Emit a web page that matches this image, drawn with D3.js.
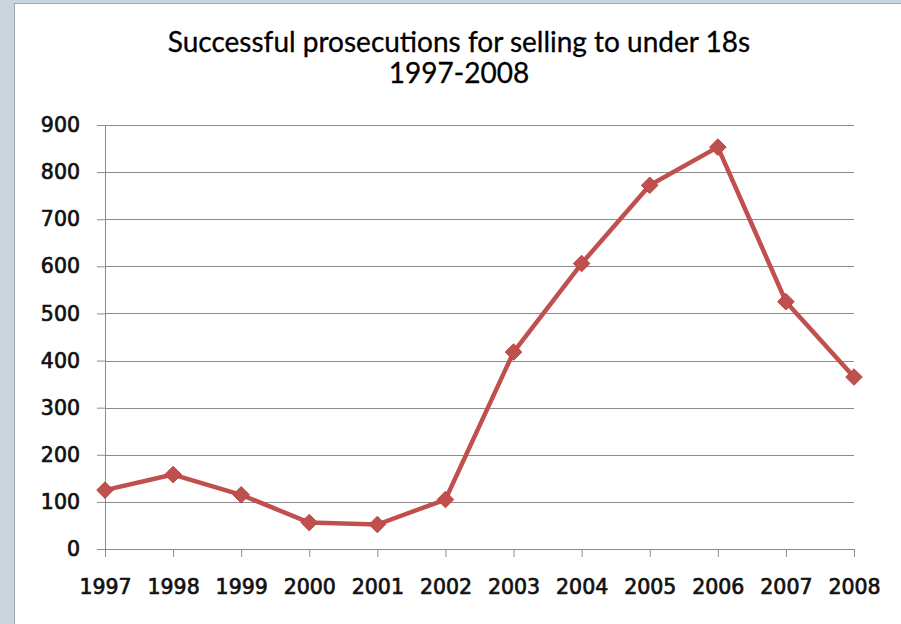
<!DOCTYPE html>
<html>
<head>
<meta charset="utf-8">
<script src="https://cdn.jsdelivr.net/npm/d3@7"></script>
<style>
  html, body { margin: 0; padding: 0; background: #c9d4dc; overflow: hidden; }
  svg { display: block; }
</style>
</head>
<body>
<svg id="chart"></svg>
<script>
const years = ["1997", "1998", "1999", "2000", "2001", "2002", "2003", "2004", "2005", "2006", "2007", "2008"];
const prosecutions = [125, 158, 115, 56, 52, 105, 418, 606, 772, 853, 525, 365];
const yTicks = [0, 100, 200, 300, 400, 500, 600, 700, 800, 900];
const titleLines = ["Successful prosecutions for selling to under 18s", "1997-2008"];

const width = 901;
const height = 624;
const margin = { top: 125, right: 47, bottom: 75, left: 105 };

const svg = d3.select('#chart')
    .attr('width', width)
    .attr('height', height);

// white chart panel, its border only shows on the left and top
svg.append('rect')
    .attr('x', 14.5)
    .attr('y', 3.5)
    .attr('width', width - 14)
    .attr('height', height - 3)
    .attr('fill', 'white')
    .attr('stroke', '#a6a6a6')
    .attr('stroke-width', 1);

const innerWidth = width - margin.left - margin.right;
const innerHeight = height - margin.top - margin.bottom;

const xScale = d3.scalePoint()
    .domain(years)
    .range([0, innerWidth]);

const yScale = d3.scaleLinear()
    .domain([0, 900])
    .range([innerHeight, 0]);

const g = svg.append('g')
    .attr('transform', `translate(${margin.left}, ${margin.top})`);

// gridlines
g.append('g')
    .selectAll('line')
    .data(yTicks.filter(d => d > 0))
    .enter()
    .append('line')
    .attr('x1', 0)
    .attr('x2', innerWidth)
    .attr('y1', d => Math.round(yScale(d)) + 0.5)
    .attr('y2', d => Math.round(yScale(d)) + 0.5)
    .attr('stroke', '#8c8c8c')
    .attr('stroke-width', 1);

const labelFont = sel => sel
    .attr('font-family', 'DejaVu Sans')
    .attr('font-size', '20.5px')
    .attr('fill', '#111')
    .attr('stroke', '#111')
    .attr('stroke-width', 0.7);

// y axis
const yAxis = d3.axisLeft(yScale)
    .tickValues(yTicks)
    .tickSize(8)
    .tickPadding(17);
const yAxisG = g.append('g').call(yAxis);
yAxisG.select('.domain').attr('stroke', '#8c8c8c').attr('d', `M0.5,${innerHeight}V0`);
yAxisG.selectAll('.tick line').attr('stroke', '#8c8c8c');
yAxisG.selectAll('.tick text').call(labelFont);

// x axis
const xAxis = d3.axisBottom(xScale)
    .tickSize(8)
    .tickPadding(22)
    .tickSizeOuter(0);
const xAxisG = g.append('g')
    .attr('transform', `translate(0, ${innerHeight})`)
    .call(xAxis);
xAxisG.select('.domain').attr('stroke', '#8c8c8c');
xAxisG.selectAll('.tick line').attr('stroke', '#8c8c8c');
xAxisG.selectAll('.tick text').call(labelFont);

// line
g.append('path').datum(prosecutions)
    .attr('fill', 'none')
    .attr('stroke', '#c0504d')
    .attr('stroke-width', 4.5)
    .attr('stroke-linejoin', 'round')
    .attr('d', d3.line()
        .x((d, i) => xScale(years[i]))
        .y(d => yScale(d))
    );

// diamond markers
g.append('g')
    .selectAll('path')
    .data(prosecutions)
    .enter()
    .append('path')
    .attr('d', d3.symbol().type(d3.symbolDiamond2).size(175))
    .attr('transform', (d, i) => `translate(${xScale(years[i])}, ${yScale(d)})`)
    .attr('fill', '#c0504d')
    .attr('stroke', '#b9433f')
    .attr('stroke-width', 1);

// title
svg.append('g')
    .selectAll('text')
    .data(titleLines)
    .enter()
    .append('text')
    .attr('x', 459)
    .attr('y', (d, i) => 52 + i * 31)
    .attr('text-anchor', 'middle')
    .attr('font-family', 'Lato, "Open Sans", sans-serif')
    .attr('font-size', '28px')
    .attr('fill', '#000')
    .attr('stroke', '#000')
    .attr('stroke-width', 0.3)
    .text(d => d);
</script>
</body>
</html>
